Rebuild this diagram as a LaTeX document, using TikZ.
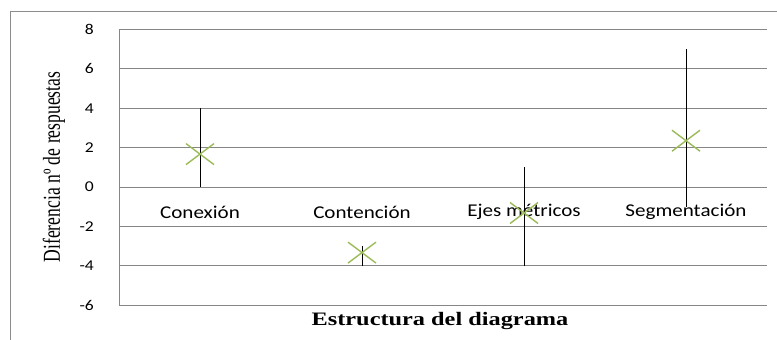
\documentclass[tikz,border=0pt]{standalone}
\usepackage{fontspec}
\setmainfont{Liberation Serif}
\newfontfamily\chartfont{Carlito}
\usetikzlibrary{positioning}
\definecolor{GridGray}{HTML}{868686}
\definecolor{FrameGray}{HTML}{8C8C8C}
\definecolor{MarkGreen}{HTML}{9BBB59}
\tikzset{
  gridline/.style={GridGray, line width=0.9pt},
  errbar/.style={black, line width=0.8pt},
  crossmark/.style={MarkGreen, line width=1.4pt},
  ticklabel/.style={font=\chartfont\fontsize{15}{15}\selectfont, anchor=east, xscale=1.17},
  catlabel/.style={font=\chartfont\fontsize{18}{18}\selectfont, xscale=1.17},
  axistitle/.style={font=\fontsize{17.6}{18}\selectfont}
}

\begin{document}
\begin{tikzpicture}[x=1pt, y=1pt]
  \useasboundingbox (0,0) rectangle (777,340);
  % outer frame
  \draw[FrameGray, line width=0.9pt] (10,0) -- (10,329) -- (777,329);

  \node[axistitle, rotate=90] (ytitle) at (54,173) {\scalebox{1}[1.38]{Diferencia nº de respuestas}};
  \node[axistitle, font=\bfseries\fontsize{19}{19}\selectfont, xscale=1.28] (xtitle) at (440,19) {Estructura del diagrama};

  \begin{scope}[shift={(119pt,153pt)}, x=162pt, y=19.7pt]
    \draw[gridline] (0,-6) -- (0,8);
    \foreach \v in {-6,-4,...,8} {
      \draw[gridline] (0,\v) -- (4,\v);
      \node[ticklabel] (tick\v) at ([xshift=-21pt]0,\v) {\v};
    }
    % categories, error bars and mean markers
    \foreach \i/\lo/\hi/\val/\name in {1/0/4/1.67/Conexión, 2/-4/-3/-3.33/Contención,
        3/-4/1/-1.32/Ejes métricos, 4/-1/7/2.35/Segmentación} {
      \node[catlabel] (cat\i) at ({\i-0.5},-1.27) {\name};
      \coordinate (lo\i) at ({\i-0.5},\lo);
      \coordinate (hi\i) at ({\i-0.5},\hi);
      \coordinate (p\i) at ({\i-0.5},\val);
      \draw[errbar] (lo\i) -- (hi\i);
      \draw[crossmark] ([shift={(-14pt,-10.5pt)}]p\i) -- ([shift={(14pt,10.5pt)}]p\i);
      \draw[crossmark] ([shift={(-14pt,10.5pt)}]p\i) -- ([shift={(14pt,-10.5pt)}]p\i);
    }
  \end{scope}
\end{tikzpicture}
\end{document}
